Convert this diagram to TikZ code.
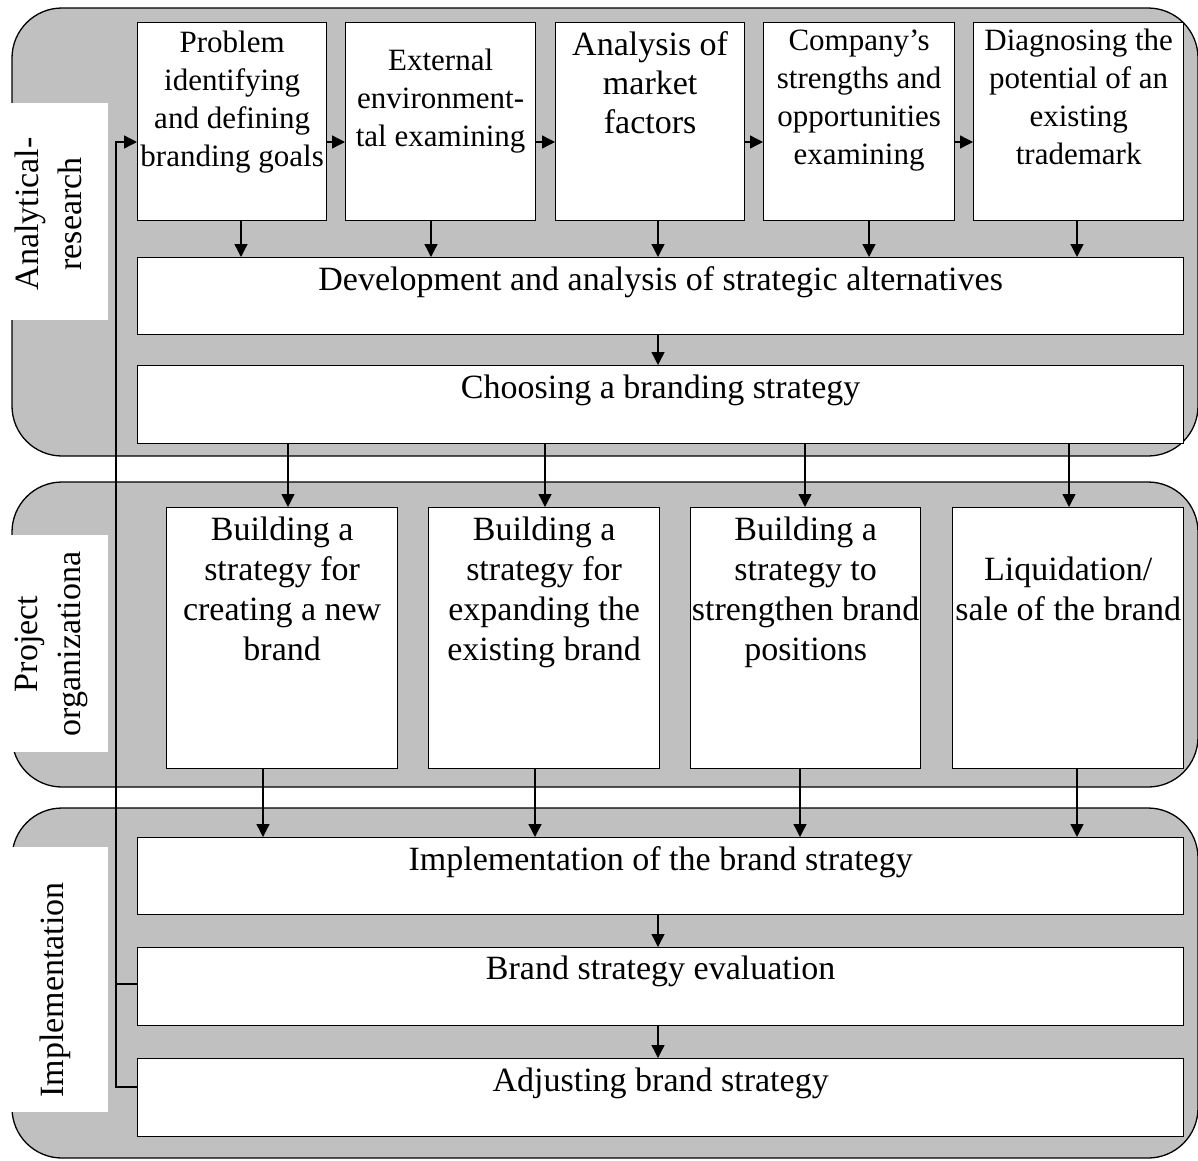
\documentclass[tikz,border=0pt]{standalone}
\usepackage{fontspec}
\setmainfont{Liberation Serif}
\usetikzlibrary{arrows.meta}
\definecolor{bandgray}{HTML}{C0C0C0}
\begin{document}
\begin{tikzpicture}[x=1pt,y=-1pt,
  band/.style={draw=black, fill=bandgray, line width=1.3pt, rounded corners=50pt},
  tagbg/.style={fill=white, draw=none},
  box/.style={draw=black, fill=white, line width=1.3pt, inner sep=0pt, anchor=north west},
  txtS/.style={align=center, inner sep=0pt, anchor=north, font=\fontsize{31}{38}\selectfont},
  txtL/.style={align=center, inner sep=0pt, anchor=north, font=\fontsize{34}{40}\selectfont},
  sidetxt/.style={align=center, inner sep=0pt, anchor=north, rotate=90, font=\fontsize{34}{43}\selectfont},
  arr/.style={line width=1.3pt, -{Triangle[length=13pt,width=13pt]}},
  link/.style={line width=1.3pt}
]
\useasboundingbox (0,0) rectangle (1198,1160);

% stage bands
\draw[band] (12,8) rectangle (1198,456);
\draw[band] (12,482) rectangle (1198,787);
\draw[band] (12,808) rectangle (1198,1158);

% stage captions
\fill[tagbg] (10,103) rectangle (108,320);
\fill[tagbg] (10,535) rectangle (108,752);
\fill[tagbg] (10,847) rectangle (108,1112);
\node[sidetxt] (capA) at (15,214) {Analytical-\\research};
\node[sidetxt] (capB) at (15,644) {Project\\organizationa};
\node[sidetxt] (capC) at (40,990) {Implementation};

% analytical-research stage
\node[box, minimum width=189pt, minimum height=198pt] (b1) at (137,22) {};
\node[box, minimum width=190pt, minimum height=198pt] (b2) at (345,22) {};
\node[box, minimum width=189pt, minimum height=198pt] (b3) at (555,22) {};
\node[box, minimum width=191pt, minimum height=198pt] (b4) at (763,22) {};
\node[box, minimum width=210pt, minimum height=198pt] (b5) at (973,22) {};
\node[txtS] (b1t) at ([yshift=-8.8pt]b1.north) {Problem\\identifying\\and defining\\branding goals};
\node[txtS] (b2t) at ([yshift=-26.8pt]b2.north) {External\\environment-\\tal examining};
\node[txtL, font=\fontsize{34}{39}\selectfont] (b3t) at ([yshift=-9.8pt]b3.north) {Analysis of\\market\\factors};
\node[txtS] (b4t) at ([yshift=-7.8pt]b4.north) {Company’s\\strengths and\\opportunities\\examining};
\node[txtS] (b5t) at ([yshift=-6.8pt]b5.north) {Diagnosing the\\potential of an\\existing\\trademark};

\node[box, minimum width=1046pt, minimum height=77pt] (dev) at (137,257) {};
\node[txtL] (devt) at ([yshift=-9.8pt]dev.north) {Development and analysis of strategic alternatives};
\node[box, minimum width=1046pt, minimum height=78pt] (cho) at (137,365) {};
\node[txtL] (chot) at ([yshift=-9.8pt]cho.north) {Choosing a branding strategy};

% project organization stage
\node[box, minimum width=231pt, minimum height=261pt] (m1) at (166,507) {};
\node[box, minimum width=231pt, minimum height=261pt] (m2) at (428,507) {};
\node[box, minimum width=230pt, minimum height=261pt] (m3) at (690,507) {};
\node[box, minimum width=231pt, minimum height=261pt] (m4) at (952,507) {};
\node[txtL] (m1t) at ([yshift=-9.8pt]m1.north) {Building a\\strategy for\\creating a new\\brand};
\node[txtL] (m2t) at ([yshift=-9.8pt]m2.north) {Building a\\strategy for\\expanding the\\existing brand};
\node[txtL] (m3t) at ([yshift=-9.8pt]m3.north) {Building a\\strategy to\\strengthen brand\\positions};
\node[txtL] (m4t) at ([yshift=-49.8pt]m4.north) {Liquidation/\\sale of the brand};

% implementation stage
\node[box, minimum width=1046pt, minimum height=77pt] (imp) at (137,837) {};
\node[txtL] (impt) at ([yshift=-9.8pt]imp.north) {Implementation of the brand strategy};
\node[box, minimum width=1046pt, minimum height=78pt] (eva) at (137,947) {};
\node[txtL] (evat) at ([yshift=-8.8pt]eva.north) {Brand strategy evaluation};
\node[box, minimum width=1046pt, minimum height=78pt] (adj) at (137,1058) {};
\node[txtL] (adjt) at ([yshift=-9.8pt]adj.north) {Adjusting brand strategy};

% reference coordinates for connector positions
\coordinate (rowA) at (0,142);
\coordinate (xa1) at (241,0);
\coordinate (xa2) at (431,0);
\coordinate (xa3) at (658,0);
\coordinate (xa4) at (869,0);
\coordinate (xa5) at (1077,0);
\coordinate (xb1) at (288,0);
\coordinate (xb2) at (545,0);
\coordinate (xb3) at (805,0);
\coordinate (xb4) at (1069,0);
\coordinate (xc1) at (263,0);
\coordinate (xc2) at (535,0);
\coordinate (xc3) at (800,0);
\coordinate (xc4) at (1077,0);
\coordinate (fbtop) at (116,142);
\coordinate (fbmid) at (116,984);
\coordinate (fbbot) at (116,1087);

% flow within the first stage
\draw[arr] (b1.east |- rowA) -- (b2.west |- rowA);
\draw[arr] (b2.east |- rowA) -- (b3.west |- rowA);
\draw[arr] (b3.east |- rowA) -- (b4.west |- rowA);
\draw[arr] (b4.east |- rowA) -- (b5.west |- rowA);
\draw[arr] (b1.south -| xa1) -- (dev.north -| xa1);
\draw[arr] (b2.south -| xa2) -- (dev.north -| xa2);
\draw[arr] (b3.south -| xa3) -- (dev.north -| xa3);
\draw[arr] (b4.south -| xa4) -- (dev.north -| xa4);
\draw[arr] (b5.south -| xa5) -- (dev.north -| xa5);
\draw[arr] (dev.south -| xa3) -- (cho.north -| xa3);

% strategy choice to the four options
\draw[arr] (cho.south -| xb1) -- (m1.north -| xb1);
\draw[arr] (cho.south -| xb2) -- (m2.north -| xb2);
\draw[arr] (cho.south -| xb3) -- (m3.north -| xb3);
\draw[arr] (cho.south -| xb4) -- (m4.north -| xb4);

% options to implementation
\draw[arr] (m1.south -| xc1) -- (imp.north -| xc1);
\draw[arr] (m2.south -| xc2) -- (imp.north -| xc2);
\draw[arr] (m3.south -| xc3) -- (imp.north -| xc3);
\draw[arr] (m4.south -| xc4) -- (imp.north -| xc4);
\draw[arr] (imp.south -| xa3) -- (eva.north -| xa3);
\draw[arr] (eva.south -| xa3) -- (adj.north -| xa3);

% feedback loop
\draw[arr] (adj.west |- fbbot) -- (fbbot) -- (fbtop) -- (b1.west |- fbtop);
\draw[link] (eva.west |- fbmid) -- (fbmid);
\end{tikzpicture}
\end{document}
